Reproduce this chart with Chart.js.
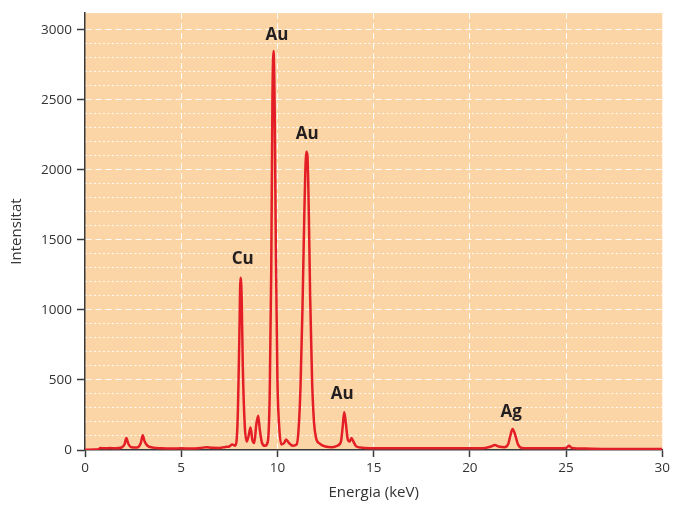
<!DOCTYPE html>
<html>
<head>
<meta charset="utf-8">
<script src="https://cdn.jsdelivr.net/npm/chart.js@4.4.1/dist/chart.umd.min.js"></script>
<style>
  body{margin:0;background:#fff;}
  canvas{display:block;}
</style>
</head>
<body>
<canvas id="espectre" width="673" height="505"></canvas>
<script>
// espectre EDS: energia (keV) i intensitat
var energia = [0.0,0.5,0.7,0.8,1.0,1.3,1.6,1.9,2.05,2.15,2.25,2.4,2.7,2.9,3.0,3.1,3.25,3.5,4.0,4.5,5.0,5.5,6.0,6.3,6.6,7.0,7.3,7.5,7.65,7.8,7.88,7.95,8.02,8.08,8.14,8.2,8.3,8.4,8.5,8.6,8.7,8.8,8.9,9.0,9.08,9.2,9.35,9.5,9.6,9.68,9.74,9.8,9.86,9.92,10.0,10.1,10.2,10.35,10.45,10.6,10.8,11.0,11.1,11.2,11.3,11.4,11.5,11.56,11.63,11.7,11.8,11.9,12.0,12.2,12.5,12.8,13.1,13.3,13.4,13.47,13.55,13.65,13.75,13.85,13.95,14.1,14.5,15,16,17,18,19,20,20.8,21.1,21.3,21.5,21.8,22.0,22.1,22.22,22.35,22.5,22.7,23.5,24.5,25.0,25.15,25.3,26,27,28,29,30];
var intensitat = [2,3,5,15,12,14,12,18,40,85,45,20,18,50,105,60,30,18,12,10,12,10,14,20,16,15,22,25,40,30,70,300,800,1230,1100,600,180,60,100,160,70,50,180,245,150,50,30,60,400,1300,2500,2850,2400,1400,500,150,40,50,75,50,30,40,150,450,1000,1700,2130,2100,1700,1100,500,200,90,45,25,20,30,60,180,270,200,80,60,85,60,25,15,12,12,12,12,12,12,15,25,35,25,20,45,100,150,110,40,15,12,12,15,30,15,10,8,8,8,8];

// ticks
var xTicks = [0,5,10,15,20,25,30];
var yTicks = [0,500,1000,1500,2000,2500,3000];
var yMenors = [100,200,300,400,600,700,800,900,1100,1200,1300,1400,1600,1700,1800,1900,2100,2200,2300,2400,2600,2700,2800,2900];

// etiquetes dels pics
var elements = ['Au','Au','Cu','Au','Ag'];
var elementX = [9.98,11.55,8.2,13.37,22.15];
var elementY = [2965,2255,1365,398,268];

var punts = [];
for (var i in energia) {
  punts.push({x: energia[i], y: intensitat[i]});
}

function posaTicks(valors) {
  return function(s) {
    s.ticks = valors.map(function(v) { return {value: v}; });
  };
}

var fons = {
  id: 'fons',
  beforeDraw: function(chart) {
    var a = chart.chartArea, ctx = chart.ctx;
    ctx.save();
    ctx.fillStyle = '#FCD5A6';
    ctx.fillRect(a.left, a.top, a.right - a.left, a.bottom - a.top);
    ctx.restore();
  }
};

var etiquetes = {
  id: 'etiquetes',
  afterDatasetsDraw: function(chart) {
    var ctx = chart.ctx, sx = chart.scales.x, sy = chart.scales.y;
    ctx.save();
    ctx.font = 'bold 17px "Open Sans"';
    ctx.fillStyle = '#231F20';
    ctx.textAlign = 'center';
    ctx.textBaseline = 'middle';
    for (var i in elements) {
      ctx.fillText(elements[i], sx.getPixelForValue(elementX[i]), sy.getPixelForValue(elementY[i]));
    }
    ctx.restore();
  }
};

var eixos = '#3a3a3a';
var blanc = 'rgba(255,255,255,0.95)';
var cap = 'rgba(0,0,0,0)';
var tickFont = {family: 'Open Sans', size: 13.5};
var titolFont = {family: 'Open Sans', size: 15};
var text = function(v) { return String(v); };

new Chart(document.getElementById('espectre'), {
  type: 'scatter',
  data: {
    datasets: [{
      data: punts,
      showLine: true,
      borderColor: '#E41E26',
      borderWidth: 2.5,
      pointRadius: 0,
      cubicInterpolationMode: 'monotone'
    }]
  },
  options: {
    responsive: false,
    animation: false,
    layout: {padding: {top: 12, right: 9, left: 0, bottom: 0}},
    plugins: {legend: {display: false}, tooltip: {enabled: false}},
    scales: {
      x: {
        type: 'linear', min: 0, max: 30,
        afterBuildTicks: posaTicks(xTicks),
        ticks: {color: '#333', font: tickFont, padding: 3, autoSkip: false, callback: text},
        grid: {
          color: function(c) { return (c.tick && (c.tick.value === 0 || c.tick.value === 30)) ? cap : blanc; },
          lineWidth: 1, tickLength: 7, tickColor: eixos, tickWidth: 1.5
        },
        border: {color: eixos, width: 1.5, dash: [6, 4]},
        title: {display: true, text: 'Energia (keV)', color: '#333', font: titolFont, padding: {top: 0, bottom: 3}},
        afterFit: function(s) { s.height = 55; }
      },
      y: {
        type: 'linear', min: 0, max: 3120,
        afterBuildTicks: posaTicks(yTicks),
        ticks: {color: '#333', font: tickFont, padding: 5, autoSkip: false, callback: text},
        grid: {
          color: function(c) { return (c.tick && c.tick.value === 0) ? cap : blanc; },
          lineWidth: 1, tickLength: 8, tickColor: eixos, tickWidth: 1.5
        },
        border: {color: eixos, width: 1.5, dash: [6, 4]},
        title: {display: true, text: 'Intensitat', color: '#333', font: titolFont, padding: {top: 8, bottom: 0}},
        afterFit: function(s) { s.width = 85; }
      },
      y2: {
        type: 'linear', position: 'left', min: 0, max: 3120,
        afterBuildTicks: posaTicks(yMenors),
        ticks: {display: false, autoSkip: false},
        grid: {color: 'rgba(255,255,255,0.9)', lineWidth: 1, drawTicks: false},
        border: {display: false, dash: [2, 2.5]},
        afterFit: function(s) { s.width = 0; }
      }
    }
  },
  plugins: [fons, etiquetes]
});
</script>
</body>
</html>
